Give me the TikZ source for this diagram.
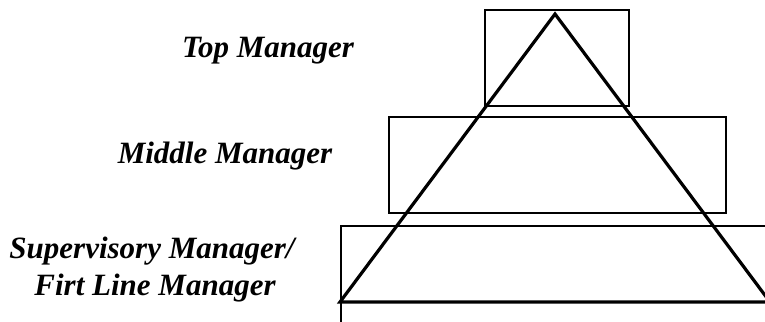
\documentclass[tikz,border=0pt]{standalone}
\usepackage{fontspec}
\setmainfont{Liberation Serif}
\begin{document}
\begin{tikzpicture}[x=1pt,y=-1pt,
  box/.style={draw=black,line width=1.2pt},
  lvl/.style={font=\fontsize{31}{37}\selectfont\bfseries\itshape,align=center,inner sep=0pt,anchor=base}]
\useasboundingbox (0,0) rectangle (765,321);
\clip (0,0) rectangle (765,321);
\draw[box] (485,10) rectangle (629,106);
\draw[box] (389,117) rectangle (726,213);
\draw[box] (341,226) rectangle (800,340);
\coordinate (apex) at (555,14);
\coordinate (bl) at (340,302);
\coordinate (br) at (770,302);
\draw[line width=3.2pt,line join=miter] (bl) -- (apex) -- (br) -- cycle;
\node[lvl] (top) at (268,57) {Top Manager};
\node[lvl] (mid) at (225,163) {Middle Manager};
\node[lvl] (sup) at (152,258) {Supervisory Manager/};
\node[lvl] (fir) at (155,295) {Firt Line Manager};
\end{tikzpicture}
\end{document}
